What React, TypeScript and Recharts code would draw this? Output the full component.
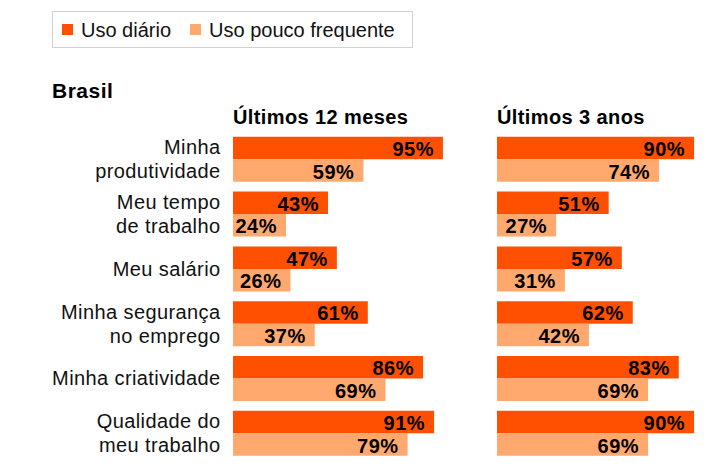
import { BarChart, Bar, XAxis, YAxis, LabelList } from 'recharts';

const categories = [
  'Minha\nprodutividade',
  'Meu tempo\nde trabalho',
  'Meu salário',
  'Minha segurança\nno emprego',
  'Minha criatividade',
  'Qualidade do\nmeu trabalho',
];
const diario12m = [95, 43, 47, 61, 86, 91];
const poucoFreq12m = [59, 24, 26, 37, 69, 79];
const diario3a = [90, 51, 57, 62, 83, 90];
const poucoFreq3a = [74, 27, 31, 42, 69, 69];

const seriesNames = ['Uso diário', 'Uso pouco frequente'];
const seriesColors = ['#fe5000', '#ffa96f'];
const panelTitles = ['Últimos 12 meses', 'Últimos 3 anos'];

const FONT = '"Liberation Sans", Arial, Helvetica, sans-serif';

const build = (a: number[], b: number[]) =>
  categories.map((c, i) => ({ cat: c, daily: a[i], rare: b[i] }));

const data12 = build(diario12m, poucoFreq12m);
const data3 = build(diario3a, poucoFreq3a);

const CategoryTick = (props: any) => {
  const { x, y, payload } = props;
  const lines = String(payload.value).split('\n');
  return (
    <text
      textAnchor="end"
      fill="#111"
      fontSize={20}
      fontFamily={FONT}
      style={{ letterSpacing: '0.4px' }}
    >
      {lines.map((l, i) => (
        <tspan key={i} x={x} y={y + 7 + (i - (lines.length - 1) / 2) * 24}>
          {l}
        </tspan>
      ))}
    </text>
  );
};

const ValueLabel = (props: any) => {
  const { x, y, width, height, value } = props;
  return (
    <text
      x={x + width - 9}
      y={y + height / 2 + 8}
      textAnchor="end"
      fill="#000"
      fontSize={20}
      fontWeight="bold"
      fontFamily={FONT}
      style={{ letterSpacing: '0.5px' }}
    >
      {value}%
    </text>
  );
};

const Panel = ({ data, withAxis, width, left }: any) => (
  <BarChart
    width={width}
    height={470}
    data={data}
    layout="vertical"
    margin={{ top: 131.8, right: 16, bottom: 9.4, left }}
    barGap={0}
    barSize={22.5}
  >
    <XAxis type="number" domain={[0, 100]} hide />
    <YAxis
      type="category"
      dataKey="cat"
      hide={!withAxis}
      width={withAxis ? 233 : 0}
      axisLine={false}
      tickLine={false}
      tickSize={0}
      tickMargin={12.5}
      tick={<CategoryTick />}
      interval={0}
    />
    <Bar dataKey="daily" name={seriesNames[0]} fill={seriesColors[0]} isAnimationActive={false}>
      <LabelList dataKey="daily" content={<ValueLabel />} />
    </Bar>
    <Bar dataKey="rare" name={seriesNames[1]} fill={seriesColors[1]} isAnimationActive={false}>
      <LabelList dataKey="rare" content={<ValueLabel />} />
    </Bar>
  </BarChart>
);

export default function App() {
  return (
    <div
      style={{
        position: 'absolute',
        left: 0,
        top: 0,
        width: 712,
        height: 470,
        overflow: 'hidden',
        background: '#fff',
        fontFamily: FONT,
        color: '#000',
      }}
    >
      {/* legend */}
      <div
        style={{
          position: 'absolute',
          left: 52,
          top: 11,
          width: 350,
          height: 35,
          border: '1px solid #cfd2d6',
          display: 'flex',
          alignItems: 'center',
          paddingLeft: 9,
          boxSizing: 'content-box',
          whiteSpace: 'nowrap',
        }}
      >
        {seriesNames.map((n, i) => (
          <div
            key={n}
            style={{ display: 'flex', alignItems: 'center', marginRight: 19, flexShrink: 0 }}
          >
            <span
              style={{
                width: 11,
                height: 11,
                background: seriesColors[i],
                marginRight: 8,
                flexShrink: 0,
              }}
            />
            <span style={{ fontSize: 20, lineHeight: '20px', color: '#111' }}>{n}</span>
          </div>
        ))}
      </div>

      <div
        style={{
          position: 'absolute',
          left: 52,
          top: 80,
          fontSize: 21,
          fontWeight: 'bold',
          letterSpacing: '0.5px',
          lineHeight: '21px',
        }}
      >
        Brasil
      </div>

      {panelTitles.map((t, i) => (
        <div
          key={t}
          style={{
            position: 'absolute',
            left: i === 0 ? 233 : 497,
            top: 107,
            fontSize: 20,
            fontWeight: 'bold',
            letterSpacing: '0.4px',
            lineHeight: '20px',
            whiteSpace: 'nowrap',
          }}
        >
          {t}
        </div>
      ))}

      <div style={{ position: 'absolute', left: 0, top: 0 }}>
        <Panel data={data12} withAxis width={470} left={0} />
      </div>
      <div style={{ position: 'absolute', left: 484, top: 0 }}>
        <Panel data={data3} withAxis={false} width={248} left={13} />
      </div>
    </div>
  );
}
